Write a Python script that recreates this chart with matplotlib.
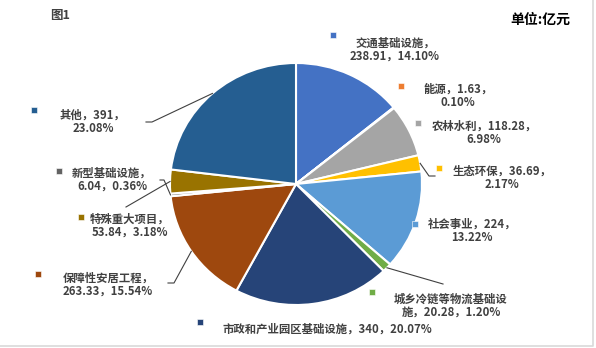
import matplotlib
matplotlib.use("Agg")
import matplotlib.pyplot as plt
import numpy as np

plt.rcParams["font.family"] = ["Noto Sans CJK SC", "DejaVu Sans"]

# data, clockwise from 12 o'clock
categories = ["交通基础设施", "能源", "农林水利", "生态环保", "社会事业",
              "城乡冷链等物流基础设施", "市政和产业园区基础设施", "保障性安居工程",
              "新型基础设施", "特殊重大项目", "其他"]
values = [238.91, 1.63, 118.28, 36.69, 224, 20.28, 340, 263.33, 6.04, 53.84, 391]
percents = ["14.10", "0.10", "6.98", "2.17", "13.22", "1.20", "20.07", "15.54",
            "0.36", "3.18", "23.08"]
colors = ["#4472C4", "#ED7D31", "#A5A5A5", "#FFC000", "#5B9BD5", "#70AD47",
          "#264478", "#9E480E", "#636363", "#997300", "#255E91"]

# label layout in pixels: marker x, marker y, text centre x, first line y, break index
label_layout = [
    (333, 35, 395, 43, 7),
    (401, 86, 458, 89, 8),
    (418, 123, 484, 126, 12),
    (439, 168, 502, 171, 11),
    (415, 224, 472, 224, 9),
    (372, 292, 451, 299, 10),
    (200, 322, 327, 329, None),
    (38, 274, 108, 278, 8),
    (59, 171, 112, 173, 7),
    (81, 217, 130, 219, 7),
    (34, 110, 93, 115, 7),
]
LINE_GAP = 13.5

# leader line points (label side) by slice index
leaders = {
    10: [(146, 122), (152, 122)],
    8: [(160, 180), (164, 180)],
    9: [(126, 207)],
    7: [(168, 283), (174, 283)],
    5: [(443, 284)],
    3: [(435, 176), (429, 176)],
}

W, H = 596, 348
fig = plt.figure(figsize=(W / 100, H / 100), dpi=100)
fig.patch.set_facecolor("white")

cx, cy, rx, ry = 296, 184, 126, 121
pad = 1.02
ax_pie = fig.add_axes([(cx - rx * pad) / W, (H - cy - ry * pad) / H,
                       2 * rx * pad / W, 2 * ry * pad / H])
wedges, _ = ax_pie.pie(values, colors=colors, startangle=90, counterclock=False,
                       wedgeprops=dict(edgecolor="white", linewidth=1.5))
ax_pie.set_xlim(-pad, pad)
ax_pie.set_ylim(-pad, pad)
ax_pie.set_aspect("auto")
ax_pie.axis("off")

ax = fig.add_axes([0, 0, 1, 1])
ax.set_xlim(0, W)
ax.set_ylim(H, 0)
ax.axis("off")

txt_kw = dict(fontsize=8.2, fontweight="bold", color="#404040",
              ha="center", va="center")

for i, (name, val, pct) in enumerate(zip(categories, values, percents)):
    mx, my, tx, ty, brk = label_layout[i]
    ax.scatter([mx], [my], marker="s", s=14, color=colors[i],
               edgecolors="white", linewidths=0.4, zorder=4)
    label = f"{name}，{val:g}，{pct}%"
    if brk is None:
        ax.text(tx, ty, label, **txt_kw)
    else:
        ax.text(tx, ty, label[:brk], **txt_kw)
        ax.text(tx, ty + LINE_GAP, label[brk:], **txt_kw)

for i, pts in leaders.items():
    w = wedges[i]
    t = np.deg2rad((w.theta1 + w.theta2) / 2)
    disp = ax_pie.transData.transform((np.cos(t), np.sin(t)))
    ex, ey = ax.transData.inverted().transform(disp)
    xs = [p[0] for p in pts] + [ex]
    ys = [p[1] for p in pts] + [ey]
    ax.plot(xs, ys, color="#404040", lw=0.8, zorder=3)

ax.text(60, 16, "图1", fontsize=9, fontweight="bold", color="#404040",
        ha="center", va="center")
ax.text(540, 20, "单位:亿元", fontsize=10, fontweight="bold", color="black",
        ha="center", va="center")

# outer chart border
ax.plot([593, 593, 0], [0, 346, 346], color="#D9D9D9", lw=1.2)

fig.savefig("out.png", dpi=100)
